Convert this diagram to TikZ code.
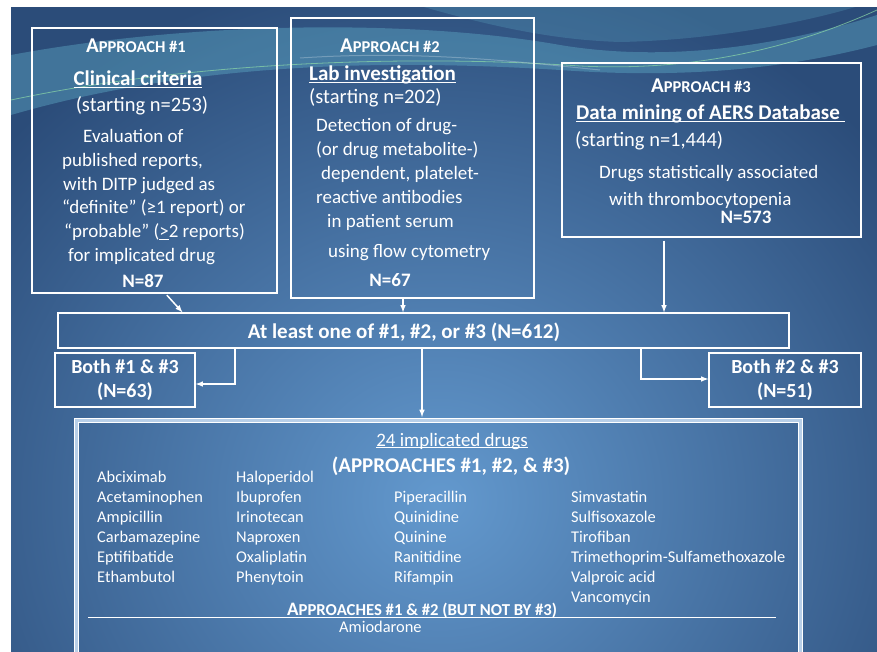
\documentclass[tikz,border=0pt]{standalone}
\usepackage{fontspec}
\setmainfont{Carlito}
\usetikzlibrary{arrows}
\definecolor{bgdark}{HTML}{2B4C79}
\definecolor{bglight}{HTML}{6399CE}
\definecolor{swoosh}{HTML}{62B2CC}
\definecolor{greenline}{HTML}{8CD9A8}
\definecolor{dgap}{HTML}{B8CFE8}
\newcommand{\fs}[2]{\fontsize{#1}{#2}\selectfont}
\newcommand{\apsc}[2]{{\fs{21}{21}#1}{\fs{16.5}{16.5}#2}}
\newcommand{\uln}[1]{\underline{\smash{#1}}}

\begin{document}
\begin{tikzpicture}[x=1pt,y=-1pt,
    box/.style={draw=white,line width=1.3pt,inner sep=0pt},
    txt/.style={text=white,inner sep=0pt,anchor=base},
    body/.style={txt,anchor=base west,align=left,font=\fs{19}{23.6}},
    drug/.style={txt,anchor=base west,align=left,font=\fs{16.4}{20}},
    arr/.style={draw=white,line width=1.5pt,-latex}]

    \useasboundingbox (0,0) rectangle (877,652);
    \fill[white] (0,0) rectangle (877,652);
    \begin{scope}
      \clip (11,7.5) rectangle (877,652);
      \fill[bgdark] (0,0) rectangle (877,652);
      \shade[inner color=bglight,outer color=bgdark] (440,500) ellipse (580 and 540);
      % swooshes on top
      \fill[swoosh,opacity=.4] (11,55) .. controls (200,20) and (420,20) .. (560,45)
        .. controls (680,65) and (800,40) .. (877,15) -- (877,45)
        .. controls (800,65) and (700,80) .. (560,70)
        .. controls (400,60) and (200,60) .. (11,115) -- cycle;
      \fill[swoosh,opacity=.25] (400,0) .. controls (500,30) and (560,40) .. (620,42)
        .. controls (720,40) and (820,20) .. (877,0) -- cycle;
      \draw[greenline,opacity=.7,line width=.8pt] (11,100) .. controls (200,60) and (420,55) .. (580,66)
        .. controls (700,72) and (800,45) .. (877,10);
      \draw[white,opacity=.25,line width=1pt] (300,58) .. controls (420,50) and (520,62) .. (600,70);
    \end{scope}

    % approach boxes
    \node[box,minimum width=245pt,minimum height=265pt] (ap1) at (154.5,160.5) {};
    \node[box,minimum width=243pt,minimum height=280pt] (ap2) at (412.5,158) {};
    \node[box,minimum width=299pt,minimum height=174pt] (ap3) at (711.5,150) {};

    \node[txt] (ap1h) at (136,52.5) {\bfseries\apsc{A}{PPROACH \#1}};
    \node[txt,font=\fs{21}{25}\bfseries] (ap1t) at (138,86) {\uln{Clinical criteria}};
    \node[txt,font=\fs{20.5}{25}] (ap1n) at (142,112) {(starting n=253)};
    \node[body] (ap1b) at (62,261) {\hspace*{21pt}Evaluation of\\published reports,\\\hspace*{1pt}with DITP judged as\\“definite” (≥1 report) or\\\hspace*{2pt}“probable” (\uln{>}2 reports)\\\hspace*{6pt}for implicated drug};
    \node[txt,font=\fs{19}{23}\bfseries] (ap1N) at (143,287) {N=87};

    \node[txt] (ap2h) at (390,52.5) {\bfseries\apsc{A}{PPROACH \#2}};
    \node[txt,anchor=base west,font=\fs{21}{25}\bfseries] (ap2t) at (309,81) {\uln{Lab investigation}};
    \node[txt,anchor=base west,font=\fs{20.5}{25}] (ap2n) at (309,104) {(starting n=202)};
    \node[body,font=\fs{19}{24}] (ap2b) at (316,257) {Detection of drug-\\(or drug metabolite-)\\\hspace*{5pt}dependent, platelet-\\reactive antibodies\\\hspace*{11pt}in patient serum\\[5.5pt]\hspace*{12pt}using flow cytometry};
    \node[txt,font=\fs{19}{23}\bfseries] (ap2N) at (390,286) {N=67};

    \node[txt] (ap3h) at (701,92.5) {\bfseries\apsc{A}{PPROACH \#3}};
    \node[txt,anchor=base west,font=\fs{21}{25}\bfseries] (ap3t) at (576,120) {\uln{Data mining of AERS Database\ }};
    \node[txt,anchor=base west,font=\fs{20.5}{25}] (ap3n) at (575,147) {(starting n=1,444)};
    \node[body,font=\fs{19}{26.7}] (ap3b) at (599,205.5) {Drugs statistically associated\\\hspace*{10pt}with thrombocytopenia};
    \node[txt,font=\fs{19}{23}\bfseries] (ap3N) at (746,224) {N=573};

    % combined
    \node[box,minimum width=731pt,minimum height=35pt] (all) at (423.5,330.5) {};
    \node[txt,font=\fs{21}{25}\bfseries] (allt) at (404,338) {At least one of \#1, \#2, or \#3 (N=612)};
    \node[box,minimum width=140pt,minimum height=54pt,text=white,align=center,font=\fs{20}{24}\bfseries] (b13) at (125,380) {Both \#1 \& \#3\\(N=63)};
    \node[box,minimum width=152pt,minimum height=54pt,text=white,align=center,font=\fs{20}{24}\bfseries] (b23) at (785,380) {Both \#2 \& \#3\\(N=51)};

    % drug list
    \node[draw=white,line width=1pt,double=dgap,double distance=2.6pt,inner sep=0pt,
      minimum width=724pt,minimum height=250pt] (drugs) at (438.5,545.5) {};
    \node[txt,font=\fs{19}{23}] (dtitle) at (452,446) {\uln{24 implicated drugs}};
    \node[txt,font=\fs{21}{25}\bfseries] (dsub) at (451,472) {(APPROACHES \#1, \#2, \& \#3)};
    \node[drug] (dcol1) at (97,582) {Abciximab\\Acetaminophen\\Ampicillin\\Carbamazepine\\Eptifibatide\\Ethambutol};
    \node[drug] (dcol2) at (236,582) {Haloperidol\\Ibuprofen\\Irinotecan\\Naproxen\\Oxaliplatin\\Phenytoin};
    \node[drug] (dcol3) at (394,582) {Piperacillin\\Quinidine\\Quinine\\Ranitidine\\Rifampin};
    \node[drug] (dcol4) at (571,602) {Simvastatin\\Sulfisoxazole\\Tirofiban\\Trimethoprim-Sulfamethoxazole\\Valproic acid\\Vancomycin};
    \node[txt,anchor=base west] (d12h) at (287,615) {\bfseries{\fs{19}{19}A}{\fs{16.7}{16.7}PPROACHES \#1 \& \#2 (BUT NOT BY \#3)}};
    \draw[white,line width=1.2pt] (88,617.5) -- (776,617.5);
    \node[drug] (damio) at (339,632) {Amiodarone};

    % arrows
    \draw[arr,shorten <=2pt] ([xshift=11pt]ap1.south) -- ([xshift=-241pt]all.north);
    \draw[arr] ([xshift=-9.5pt]ap2.south) -- ([xshift=-9.5pt]ap2.south |- all.north);
    \draw[arr,shorten <=3pt] ([xshift=-47.5pt]ap3.south) -- ([xshift=-47.5pt]ap3.south |- all.north);
    \draw[arr] ([xshift=-188.5pt]all.south) |- ([yshift=-4pt]b13.east);
    \draw[arr] ([xshift=217.5pt]all.south) |- ([yshift=1pt]b23.west);
    \draw[arr,shorten >=3pt] ([xshift=-1.5pt]all.south) -- ([xshift=-1.5pt]all.south |- drugs.north);
\end{tikzpicture}
\end{document}
